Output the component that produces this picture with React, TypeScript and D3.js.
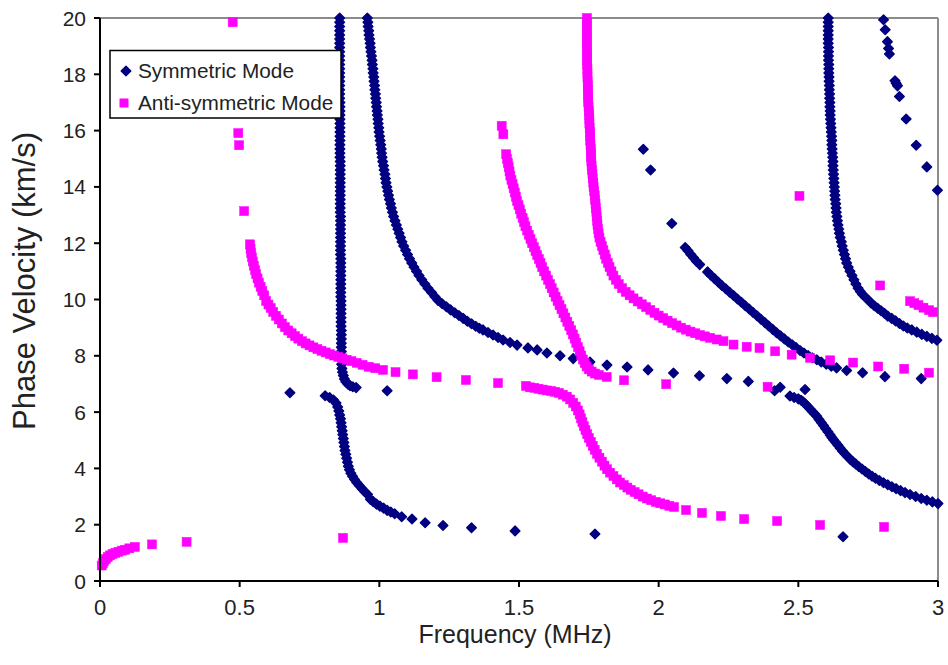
import React from 'react';
import * as d3 from 'd3';

type P = [number, number];

const xTicks = [0, 0.5, 1, 1.5, 2, 2.5, 3];
const xTickLabels = ['0', '0.5', '1', '1.5', '2', '2.5', '3'];
const yTicks = [0, 2, 4, 6, 8, 10, 12, 14, 16, 18, 20];
const yTickLabels = ['0', '2', '4', '6', '8', '10', '12', '14', '16', '18', '20'];
const seriesNames = ['Symmetric Mode', 'Anti-symmetric Mode'];
const xTitle = 'Frequency (MHz)';
const yTitle = 'Phase Velocity (km/s)';

// ---- Symmetric mode (navy diamonds) ----
const symA: P[] = [
  [0.858,20],[0.858,19.85],[0.858,19.7],[0.858,19.55],[0.858,19.4],[0.858,19.25],[0.858,19.1],[0.858,18.95],[0.858,18.8],[0.858,18.65],
  [0.858,18.5],[0.858,18.35],[0.858,18.2],[0.858,18.05],[0.858,17.9],[0.858,17.75],[0.858,17.6],[0.858,17.45],[0.858,17.3],[0.858,17.15],
  [0.859,17],[0.859,16.85],[0.859,16.7],[0.859,16.55],[0.859,16.4],[0.859,16.25],[0.859,16.1],[0.859,15.95],[0.859,15.8],[0.859,15.65],
  [0.859,15.5],[0.859,15.35],[0.859,15.2],[0.859,15.05],[0.86,14.9],[0.86,14.75],[0.86,14.6],[0.86,14.45],[0.86,14.3],[0.86,14.15],
  [0.86,14],[0.86,13.85],[0.86,13.7],[0.86,13.55],[0.86,13.4],[0.86,13.25],[0.86,13.1],[0.861,12.95],[0.861,12.8],[0.861,12.65],
  [0.861,12.5],[0.861,12.35],[0.861,12.2],[0.861,12.05],[0.861,11.9],[0.861,11.75],[0.861,11.6],[0.862,11.45],[0.862,11.3],[0.862,11.15],
  [0.862,11],[0.862,10.85],[0.862,10.7],[0.862,10.55],[0.862,10.4],[0.862,10.25],[0.862,10.1],[0.863,9.95],[0.863,9.8],[0.863,9.65],
  [0.863,9.5],[0.863,9.35],[0.863,9.2],[0.863,9.05],[0.864,8.9],[0.864,8.75],[0.864,8.6],[0.864,8.45],[0.864,8.3],[0.864,8.15],
  [0.864,8],[0.865,7.85],[0.865,7.7],[0.866,7.55],[0.868,7.42],[0.871,7.3],[0.875,7.18],[0.88,7.08],[0.887,7.0],[0.895,6.94],
  [0.905,6.9],[0.917,6.87],
];
const symB: P[] = [
  [0.957,20],[0.959,19.85],[0.96,19.7],[0.962,19.55],[0.963,19.4],[0.965,19.25],[0.967,19.1],[0.968,18.95],[0.97,18.8],[0.972,18.65],
  [0.974,18.5],[0.975,18.35],[0.977,18.2],[0.978,18.05],[0.98,17.9],[0.981,17.75],[0.983,17.6],[0.984,17.45],[0.986,17.3],[0.987,17.15],
  [0.989,17],[0.99,16.85],[0.992,16.7],[0.993,16.55],[0.995,16.4],[0.996,16.25],[0.998,16.1],[0.999,15.95],[1.001,15.8],[1.003,15.65],
  [1.005,15.5],[1.007,15.35],[1.008,15.2],[1.01,15.05],[1.012,14.9],[1.015,14.75],[1.017,14.6],[1.02,14.45],[1.022,14.3],[1.024,14.15],
  [1.027,14],[1.03,13.85],[1.033,13.7],[1.036,13.55],[1.04,13.4],[1.043,13.25],[1.047,13.1],[1.051,12.95],[1.056,12.8],[1.061,12.65],
  [1.066,12.5],[1.071,12.35],[1.076,12.2],[1.081,12.05],[1.087,11.9],[1.094,11.75],[1.101,11.6],[1.108,11.45],[1.116,11.3],[1.124,11.15],
  [1.133,11],[1.142,10.85],[1.152,10.7],[1.163,10.55],[1.174,10.4],[1.187,10.25],[1.199,10.1],[1.21,9.97],[1.225,9.85],[1.24,9.74],
  [1.255,9.63],[1.27,9.53],[1.285,9.43],[1.3,9.33],[1.315,9.23],[1.33,9.14],[1.345,9.05],[1.358,8.98],[1.371,8.92],[1.389,8.83],
  [1.407,8.74],[1.425,8.65],[1.443,8.56],[1.468,8.47],[1.493,8.38],[1.532,8.28],[1.565,8.21],[1.6,8.1],[1.647,8.0],[1.694,7.9],
  [1.754,7.78],[1.815,7.67],[1.887,7.6],[1.962,7.5],[2.053,7.39],[2.146,7.29],[2.244,7.19],[2.321,7.09],
];
const symC: P[] = [
  [1.945,15.34],[1.971,14.6],[2.047,12.7],[2.095,11.85],[2.105,11.73],[2.115,11.6],[2.125,11.48],[2.135,11.36],[2.147,11.24],[2.175,10.98],
  [2.187,10.86],[2.2,10.74],[2.213,10.62],[2.226,10.5],[2.24,10.38],[2.254,10.26],[2.268,10.14],[2.282,10.02],[2.296,9.9],[2.31,9.78],
  [2.324,9.66],[2.338,9.54],[2.352,9.42],[2.366,9.3],[2.38,9.18],[2.394,9.06],[2.408,8.94],[2.422,8.82],[2.436,8.71],[2.45,8.6],
  [2.464,8.49],[2.478,8.39],[2.492,8.29],[2.506,8.19],[2.52,8.1],[2.535,8.01],[2.55,7.93],[2.566,7.86],[2.582,7.78],[2.6,7.7],
  [2.618,7.63],[2.637,7.57],[2.673,7.48],[2.73,7.4],[2.81,7.26],[2.94,7.19],
];
const symD: P[] = [
  [2.607,20],[2.607,19.85],[2.607,19.7],[2.607,19.55],[2.607,19.4],[2.607,19.25],[2.607,19.1],[2.608,18.95],[2.608,18.8],[2.608,18.65],
  [2.608,18.5],[2.609,18.35],[2.609,18.2],[2.609,18.05],[2.61,17.9],[2.61,17.75],[2.611,17.6],[2.611,17.45],[2.612,17.3],[2.612,17.15],
  [2.613,17],[2.613,16.85],[2.614,16.7],[2.614,16.55],[2.615,16.4],[2.616,16.25],[2.617,16.1],[2.618,15.95],[2.619,15.8],[2.62,15.65],
  [2.62,15.5],[2.621,15.35],[2.622,15.2],[2.623,15.05],[2.624,14.9],[2.624,14.75],[2.625,14.6],[2.626,14.45],[2.627,14.3],[2.628,14.15],
  [2.629,14],[2.63,13.85],[2.631,13.7],[2.632,13.55],[2.634,13.4],[2.635,13.25],[2.636,13.1],[2.638,12.95],[2.64,12.8],[2.642,12.65],
  [2.645,12.5],[2.647,12.35],[2.65,12.2],[2.654,12.05],[2.657,11.9],[2.661,11.75],[2.665,11.6],[2.669,11.45],[2.673,11.3],[2.679,11.15],
  [2.685,11],[2.692,10.85],[2.699,10.7],[2.706,10.55],[2.714,10.4],[2.722,10.28],[2.73,10.18],[2.74,10.08],[2.75,9.98],[2.76,9.88],
  [2.772,9.78],[2.784,9.69],[2.796,9.6],[2.808,9.51],[2.82,9.41],[2.834,9.33],[2.848,9.24],[2.862,9.15],[2.876,9.06],[2.89,8.99],
  [2.906,8.92],[2.924,8.84],[2.942,8.76],[2.96,8.69],[2.978,8.62],[2.996,8.55],
];
const symE: P[] = [
  [2.805,19.94],[2.811,19.58],[2.819,19.16],[2.823,18.92],[2.826,18.72],[2.846,17.77],[2.85,17.68],[2.855,17.59],[2.862,17.21],[2.886,16.41],
  [2.922,15.48],[2.96,14.71],[2.998,13.88],
];
const symF: P[] = [
  [0.68,6.69],[0.806,6.58],[0.822,6.52],[0.836,6.43],[0.845,6.32],[0.851,6.18],[0.855,6.04],[0.858,5.9],[0.861,5.76],[0.863,5.62],
  [0.865,5.48],[0.867,5.34],[0.869,5.2],[0.871,5.06],[0.873,4.92],[0.875,4.78],[0.877,4.64],[0.88,4.5],[0.883,4.36],[0.886,4.22],
  [0.889,4.08],[0.893,3.95],[0.898,3.83],[0.904,3.72],[0.911,3.61],[0.919,3.5],[0.928,3.39],[0.938,3.28],[0.948,3.17],[0.958,3.07],
  [0.968,2.9],[0.978,2.82],[0.99,2.73],[1.002,2.66],[1.015,2.59],[1.028,2.51],[1.041,2.45],[1.055,2.39],[1.08,2.28],[1.117,2.2],
  [1.164,2.07],[1.228,1.97],[1.33,1.89],[1.486,1.78],[1.772,1.67],[2.66,1.57],
];
const symG: P[] = [
  [1.028,6.76],[2.415,6.76],[2.435,6.88],[2.524,6.8],
  [2.47,6.57],[2.485,6.52],[2.5,6.47],[2.51,6.42],[2.518,6.36],[2.526,6.28],[2.534,6.2],[2.542,6.11],[2.55,6.02],[2.558,5.94],
  [2.566,5.85],[2.574,5.74],[2.582,5.63],[2.59,5.52],[2.598,5.41],[2.606,5.3],[2.614,5.19],[2.62,5.1],[2.626,5.02],[2.634,4.92],
  [2.642,4.82],[2.65,4.72],[2.658,4.62],[2.666,4.53],[2.675,4.43],[2.685,4.33],[2.695,4.24],[2.705,4.16],[2.716,4.07],[2.728,3.98],
  [2.74,3.89],[2.752,3.8],[2.764,3.72],[2.776,3.65],[2.79,3.57],[2.805,3.49],[2.82,3.42],[2.835,3.35],[2.85,3.28],[2.866,3.21],
  [2.882,3.14],[2.9,3.07],[2.92,3.0],[2.94,2.93],[2.96,2.87],[2.98,2.81],[3.0,2.75],
];

// ---- Anti-symmetric mode (magenta squares) ----
const antiA: P[] = [
  [0.006,0.55],[0.01,0.63],[0.015,0.71],[0.021,0.78],[0.028,0.85],[0.036,0.91],[0.045,0.96],[0.055,1.0],[0.066,1.04],[0.078,1.08],
  [0.09,1.11],[0.105,1.16],[0.125,1.21],[0.186,1.3],[0.31,1.39],[0.87,1.53],
];
const antiB: P[] = [
  [0.475,19.85],[0.495,15.91],[0.498,15.48],[0.516,13.14],[0.537,11.96],[0.539,11.8],[0.541,11.65],[0.544,11.5],[0.547,11.35],[0.551,11.2],
  [0.555,11.05],[0.559,10.9],[0.564,10.75],[0.569,10.6],[0.575,10.45],[0.581,10.3],[0.588,10.15],[0.595,9.95],[0.603,9.82],[0.611,9.7],
  [0.62,9.56],[0.63,9.42],[0.64,9.29],[0.651,9.15],[0.662,9.02],[0.674,8.9],[0.686,8.8],[0.698,8.7],[0.71,8.61],[0.723,8.52],
  [0.736,8.44],[0.75,8.37],[0.764,8.3],[0.778,8.24],[0.793,8.18],[0.808,8.12],[0.823,8.06],[0.838,8.01],[0.853,7.96],[0.868,7.91],
  [0.883,7.86],[0.9,7.81],[0.919,7.75],[0.94,7.68],[0.962,7.61],[0.985,7.56],[1.013,7.5],[1.058,7.42],[1.12,7.34],[1.205,7.24],
  [1.31,7.14],[1.425,7.03],[1.525,6.93],
  [1.54,6.88],[1.555,6.86],[1.57,6.83],[1.585,6.8],[1.6,6.77],[1.615,6.75],[1.629,6.72],[1.643,6.68],[1.657,6.62],[1.671,6.55],
  [1.683,6.45],[1.694,6.33],[1.703,6.2],[1.711,6.06],[1.717,5.92],[1.722,5.78],[1.727,5.64],[1.732,5.5],[1.738,5.36],[1.744,5.22],
  [1.75,5.08],[1.757,4.94],[1.764,4.8],[1.771,4.66],[1.779,4.52],[1.788,4.38],[1.797,4.24],[1.806,4.1],[1.815,3.97],[1.826,3.85],
  [1.838,3.73],[1.85,3.61],[1.862,3.5],[1.875,3.41],[1.888,3.32],[1.9,3.24],[1.914,3.16],[1.928,3.08],[1.943,3.0],[1.958,2.93],
  [1.973,2.87],[1.99,2.81],[2.006,2.76],[2.022,2.72],[2.038,2.67],[2.055,2.63],[2.098,2.52],[2.155,2.42],[2.223,2.31],[2.306,2.2],
  [2.424,2.13],[2.578,1.99],[2.807,1.92],
];
const antiC: P[] = [
  [1.438,16.17],[1.444,15.87],[1.454,15.16],[1.457,15.0],[1.46,14.85],[1.463,14.7],[1.466,14.55],[1.469,14.4],[1.473,14.25],[1.477,14.1],
  [1.481,13.95],[1.485,13.8],[1.489,13.65],[1.493,13.5],[1.498,13.35],[1.503,13.2],[1.508,13.05],[1.513,12.9],[1.518,12.75],[1.523,12.6],
  [1.529,12.45],[1.535,12.3],[1.541,12.15],[1.547,12.0],[1.553,11.86],[1.559,11.72],[1.565,11.58],[1.571,11.44],[1.577,11.3],[1.583,11.15],
  [1.59,11.0],[1.597,10.85],[1.604,10.7],[1.611,10.55],[1.617,10.4],[1.624,10.25],[1.631,10.1],[1.638,9.95],[1.645,9.8],[1.652,9.66],
  [1.659,9.51],[1.666,9.36],[1.673,9.21],[1.68,9.06],[1.687,8.91],[1.693,8.76],[1.699,8.61],[1.705,8.46],[1.711,8.31],[1.717,8.16],
  [1.723,8.01],[1.729,7.87],[1.735,7.74],[1.742,7.62],[1.75,7.52],[1.76,7.44],[1.772,7.37],[1.786,7.32],[1.814,7.25],[1.876,7.13],
  [2.027,6.99],[2.39,6.9],
];
const antiD: P[] = [
  [1.743,20],[1.743,19.85],[1.743,19.7],[1.743,19.55],[1.743,19.4],[1.743,19.25],[1.743,19.1],[1.743,18.95],[1.744,18.8],[1.744,18.65],
  [1.744,18.5],[1.744,18.35],[1.745,18.2],[1.745,18.05],[1.745,17.9],[1.746,17.75],[1.746,17.6],[1.747,17.45],[1.747,17.3],[1.748,17.15],
  [1.748,17],[1.749,16.85],[1.75,16.7],[1.751,16.55],[1.752,16.4],[1.752,16.25],[1.753,16.1],[1.754,15.95],[1.755,15.8],[1.755,15.65],
  [1.756,15.5],[1.757,15.35],[1.758,15.2],[1.758,15.05],[1.759,14.9],[1.76,14.75],[1.761,14.6],[1.763,14.45],[1.764,14.3],[1.766,14.15],
  [1.767,14],[1.769,13.85],[1.771,13.7],[1.772,13.55],[1.774,13.4],[1.775,13.25],[1.777,13.1],[1.778,12.95],[1.78,12.8],[1.781,12.65],
  [1.783,12.5],[1.785,12.35],[1.788,12.2],[1.792,12.05],[1.797,11.9],[1.802,11.75],[1.807,11.6],[1.812,11.45],[1.818,11.3],[1.824,11.15],
  [1.831,11],[1.838,10.85],[1.847,10.7],[1.857,10.55],[1.869,10.4],[1.882,10.27],[1.896,10.15],[1.91,10.04],[1.925,9.93],[1.94,9.83],
  [1.955,9.73],[1.97,9.63],[1.985,9.53],[2.0,9.43],[2.016,9.34],[2.032,9.25],[2.048,9.16],[2.064,9.08],[2.08,9.0],[2.097,8.93],
  [2.114,8.86],[2.131,8.8],[2.148,8.74],[2.165,8.69],[2.184,8.64],[2.208,8.58],[2.232,8.52],[2.268,8.4],[2.315,8.32],[2.361,8.28],
  [2.417,8.16],[2.476,8.04],[2.542,7.93],[2.614,7.84],[2.696,7.76],[2.786,7.62],[2.879,7.54],[2.968,7.4],
];
const antiE: P[] = [
  [2.504,13.68],[2.793,10.5],[2.9,9.94],[2.915,9.87],[2.93,9.8],[2.948,9.71],[2.968,9.62],[2.982,9.55],
];

const symmetric: P[] = [...symA, ...symB, ...symC, ...symD, ...symE, ...symF, ...symG];
const antisymmetric: P[] = [...antiA, ...antiB, ...antiC, ...antiD, ...antiE];

const NAVY = '#000080';
const MAGENTA = '#FF00FF';
const FONT = '"Liberation Sans", Arial, Helvetica, sans-serif';

const diamondPath = (r: number) => `M0,${-r}L${r},0L0,${r}L${-r},0Z`;

export default function App() {
  const left = 100, right = 938, top = 18, bottom = 581;
  const x = d3.scaleLinear().domain([0, 3]).range([left, right]);
  const y = d3.scaleLinear().domain([0, 20]).range([bottom, top]);
  const dr = 4.8;
  const sq = 9;

  return (
    <svg width={948} height={665} style={{ position: 'absolute', left: 0, top: 0, background: '#fff' }} fontFamily={FONT}>
      <rect x={0} y={0} width={948} height={665} fill="#fff" />
      {/* plot area border (top / right) */}
      <line x1={left} x2={right} y1={top} y2={top} stroke="#8c8c8c" strokeWidth={2} />
      <line x1={right} x2={right} y1={top} y2={bottom} stroke="#8c8c8c" strokeWidth={2} />

      {/* symmetric */}
      <g fill={NAVY} stroke={NAVY} strokeWidth={1.4} strokeLinejoin="round">
        {symmetric.map((d, i) => (
          <path key={'s' + i} d={diamondPath(dr)} transform={`translate(${x(d[0])},${y(d[1])})`} />
        ))}
      </g>
      {/* anti-symmetric */}
      <g fill={MAGENTA} stroke={MAGENTA} strokeWidth={0.5}>
        {antisymmetric.map((d, i) => (
          <rect key={'a' + i} x={x(d[0]) - sq / 2} y={y(d[1]) - sq / 2} width={sq} height={sq} />
        ))}
      </g>

      {/* axes */}
      <line x1={left} x2={left} y1={top} y2={bottom + 1} stroke="#000" strokeWidth={2} />
      <line x1={left - 1} x2={right} y1={bottom} y2={bottom} stroke="#000" strokeWidth={2} />
      {yTicks.map((t, i) => (
        <g key={'yt' + i}>
          <line x1={left - 6} x2={left} y1={y(t)} y2={y(t)} stroke="#000" strokeWidth={2} />
          <text x={86} y={y(t) + 7.5} textAnchor="end" fontSize={21} fill="#222">{yTickLabels[i]}</text>
        </g>
      ))}
      {xTicks.map((t, i) => (
        <g key={'xt' + i}>
          <line x1={x(t)} x2={x(t)} y1={bottom} y2={bottom + 6} stroke="#000" strokeWidth={2} />
          <text x={x(t)} y={615} textAnchor="middle" fontSize={22} fill="#222">{xTickLabels[i]}</text>
        </g>
      ))}
      <text x={515} y={643} textAnchor="middle" fontSize={25} fill="#222">{xTitle}</text>
      <text transform={`translate(35,281) rotate(-90)`} textAnchor="middle" fontSize={31} fill="#222">{yTitle}</text>

      {/* legend */}
      <rect x={110} y={50.5} width={231} height={67.5} fill="#fff" stroke="#000" strokeWidth={1.5} />
      <path d={diamondPath(dr)} transform="translate(126,71)" fill={NAVY} stroke={NAVY} strokeWidth={1.4} strokeLinejoin="round" />
      <text x={138} y={78} fontSize={20.8} fill="#222">{seriesNames[0]}</text>
      <rect x={124 - sq / 2} y={103 - sq / 2} width={sq} height={sq} fill={MAGENTA} />
      <text x={138} y={110} fontSize={20.8} fill="#222">{seriesNames[1]}</text>
    </svg>
  );
}
